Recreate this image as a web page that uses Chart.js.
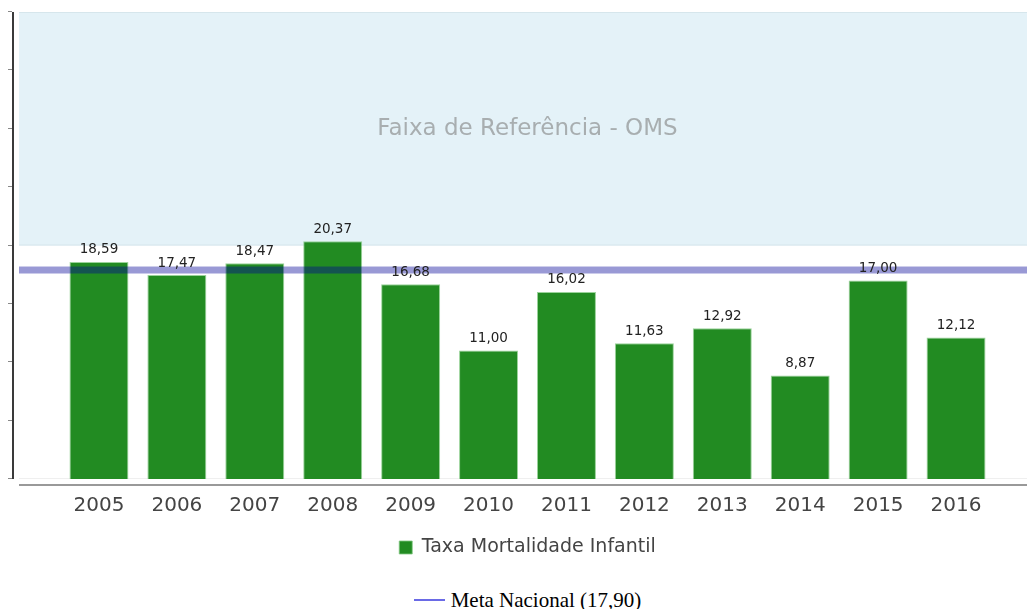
<!DOCTYPE html>
<html>
<head>
<meta charset="utf-8">
<script src="https://cdn.jsdelivr.net/npm/chart.js@4.4.1/dist/chart.umd.min.js"></script>
<style>
  body { margin: 0; background: #fff; }
  #wrap { position: relative; width: 1027px; height: 609px; }
  #chartBox { position: absolute; left: 0; top: 0; width: 1027px; height: 580px; }
  #metaLegend {
    position: absolute; left: 60px; width: 935px; top: 587px;
    text-align: center; font-family: "Liberation Serif", "Times New Roman", serif;
    font-size: 21px; color: #000; line-height: 26px;
  }
  #metaLegend span.line {
    display: inline-block; width: 31px; height: 2px; background: #6a6ae6;
    vertical-align: middle; margin-right: 6px; position: relative; top: -2px;
  }
</style>
</head>
<body>
<div id="wrap">
  <div id="chartBox"><canvas id="taxaChart"></canvas></div>
  <div id="metaLegend"><span class="line"></span>Meta Nacional (17,90)</div>
</div>
<script>
// dados
const anos = ['2005', '2006', '2007', '2008', '2009', '2010', '2011', '2012', '2013', '2014', '2015', '2016'];
const taxaMortalidade = [18.59, 17.47, 18.47, 20.37, 16.68, 11.00, 16.02, 11.63, 12.92, 8.87, 17.00, 12.12];
const metaNacional = 17.90;
const faixaOMS = [20, 40];
const yMin = 0, yMax = 40, yStep = 5;

function fmt(v) {
    return v.toFixed(2).replace('.', ',');
}

const extras = {
    id: 'extras',
    beforeDatasetsDraw(chart) {
        const ctx = chart.ctx;
        const y = chart.scales.y;
        const w = chart.width;
        const top = y.getPixelForValue(faixaOMS[1]);
        const bot = y.getPixelForValue(faixaOMS[0]);
        const base = y.getPixelForValue(yMin);
        ctx.save();
        // faixa de referencia
        ctx.fillStyle = '#e4f2f8';
        ctx.fillRect(19, top, w - 19, bot - top);
        ctx.fillStyle = '#d6e6ec';
        ctx.fillRect(19, top, w - 19, 1);
        ctx.fillRect(19, bot - 1, w - 19, 1);
        ctx.fillStyle = '#a8aeb0';
        ctx.font = '23px "DejaVu Sans"';
        ctx.textAlign = 'center';
        ctx.textBaseline = 'middle';
        const cx = (chart.chartArea.left + chart.chartArea.right) / 2;
        ctx.fillText('Faixa de Referência - OMS', cx, y.getPixelForValue((faixaOMS[0] + faixaOMS[1]) / 2));

        // linha base e eixo x
        ctx.fillStyle = '#efefef';
        ctx.fillRect(19, base - 1, w - 19, 1);
        ctx.fillStyle = '#999';
        ctx.fillRect(19, base + 5, w - 19, 2);

        // eixo y
        ctx.fillStyle = '#3a3a3a';
        ctx.fillRect(12, top, 2, base - top);
        ctx.fillStyle = '#888';
        for (let v = yMin; v <= yMax; v += yStep) {
            const py = Math.round(y.getPixelForValue(v));
            ctx.fillRect(8, py - 1, 4, 1);
        }
        ctx.restore();
    },
    afterDatasetsDraw(chart) {
        const ctx = chart.ctx;
        const y = chart.scales.y;
        const py = y.getPixelForValue(metaNacional);
        ctx.save();
        ctx.fillStyle = 'rgba(0, 0, 150, 0.4)';
        ctx.fillRect(19, py - 3.5, chart.width - 19, 7);

        ctx.fillStyle = '#222';
        ctx.font = '13.5px "DejaVu Sans"';
        ctx.textAlign = 'center';
        ctx.textBaseline = 'middle';
        chart.getDatasetMeta(0).data.forEach(function(bar, i) {
            ctx.fillText(fmt(taxaMortalidade[i]), bar.x, bar.y - 12);
        });
        ctx.restore();
    }
};

document.addEventListener('DOMContentLoaded', function() {
    const ctx = document.getElementById('taxaChart').getContext('2d');
    new Chart(ctx, {
        type: 'bar',
        data: {
            labels: anos,
            datasets: [{
                label: 'Taxa Mortalidade Infantil',
                data: taxaMortalidade,
                backgroundColor: '#228b22',
                borderColor: 'rgba(130, 200, 130, 0.8)',
                borderWidth: 1,
                categoryPercentage: 1,
                barPercentage: 0.757
            }]
        },
        options: {
            responsive: true,
            maintainAspectRatio: false,
            animation: false,
            layout: {
                padding: { left: 60, right: 32, top: 12, bottom: 13 }
            },
            plugins: {
                legend: {
                    position: 'bottom',
                    labels: {
                        color: '#444',
                        padding: 13,
                        font: { family: 'DejaVu Sans', size: 19 },
                        boxWidth: 13,
                        boxHeight: 13
                    }
                },
                tooltip: { enabled: false }
            },
            scales: {
                x: {
                    grid: { display: false },
                    border: { display: false },
                    ticks: {
                        color: '#444',
                        padding: 7,
                        font: { family: 'DejaVu Sans', size: 20 }
                    }
                },
                y: {
                    display: false,
                    min: yMin,
                    max: yMax,
                    ticks: { stepSize: yStep }
                }
            }
        },
        plugins: [extras]
    });
});
</script>
</body>
</html>
